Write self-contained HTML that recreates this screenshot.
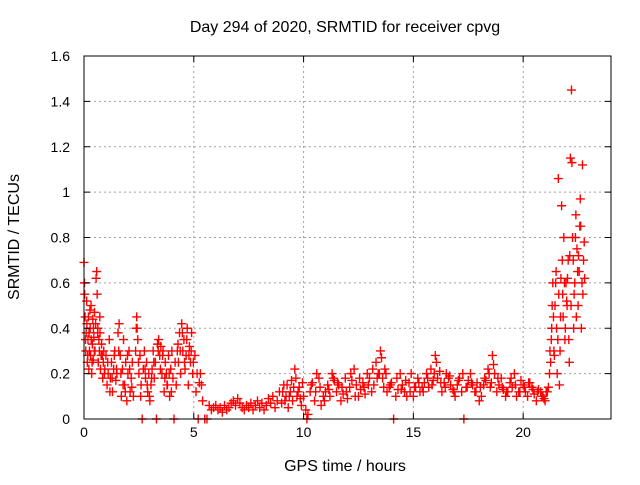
<!DOCTYPE html>
<html><head><meta charset="utf-8"><style>
body{margin:0;background:#fff}
svg text{font-family:"Liberation Sans",sans-serif;font-size:14px;fill:#000}
svg text.ttl{font-size:16px}
</style></head><body>
<svg id="chart" width="640" height="480">
<rect width="640" height="480" fill="#fff"/>
<text class="ttl" x="345" y="32" text-anchor="middle">Day 294 of 2020, SRMTID for receiver cpvg</text>
<text class="ttl" transform="translate(19,237) rotate(-90)" text-anchor="middle">SRMTID / TECUs</text>
<text class="ttl" x="345" y="471" text-anchor="middle">GPS time / hours</text>
<g id="grid"></g><g id="marks"></g><g id="axes"></g>
</svg>
<script>
const xTicks=[0,5,10,15,20];
const yTicks=[0,0.2,0.4,0.6,0.8,1,1.2,1.4,1.6];
const yTickLabels=["0","0.2","0.4","0.6","0.8","1","1.2","1.4","1.6"];
const hours=[0,0.02,0.05,0.08,0.1,0.12,0.15,0.18,0.2,0.22,0.25,0.28,0.3,0.32,0.35,0.38,0.4,0.42,0.45,0.48,0.5,
0.55,0.58,0.6,0.62,0.65,0.68,0.7,0.72,0.75,0.78,0.8,0.85,0.88,0.9,0.95,1.0,
1.05,1.1,1.15,1.2,1.25,1.3,1.35,1.4,1.45,1.5,1.55,1.6,1.65,1.7,1.75,1.8,1.85,1.9,1.95,2.0,2.05,2.1,2.15,2.2,2.25,
2.35,2.4,2.42,2.45,2.5,2.55,2.6,2.65,2.7,
2.75,2.8,2.85,2.9,2.95,3.0,3.05,3.1,3.15,3.2,3.25,3.3,3.35,3.4,3.45,3.5,3.55,3.6,3.65,3.7,3.75,3.8,3.85,3.9,3.95,4.0,4.05,4.1,4.15,
4.2,4.25,4.3,4.35,4.4,4.45,4.5,4.55,4.6,4.65,4.7,4.75,4.8,4.85,4.9,4.95,
5.05,5.1,5.2,5.3,5.35,5.4,5.5,5.6,
5.7,5.8,5.9,6.0,6.1,6.2,6.3,6.4,6.5,
6.6,6.7,6.8,6.9,7.0,7.1,7.2,7.3,7.4,7.5,7.6,7.7,7.8,7.9,8.0,8.1,8.2,8.3,8.4,8.5,8.6,8.7,8.8,8.9,
9.0,9.1,9.2,9.3,9.4,9.5,9.6,9.65,9.7,9.8,9.9,10.0,10.1,10.15,10.2,
10.3,10.5,10.7,10.9,11.1,11.3,11.5,11.7,11.9,12.1,12.3,12.5,12.7,12.9,13.1,13.3,13.5,13.6,13.8,14.0,14.1,14.2,14.4,14.6,14.8,15.0,15.2,15.4,15.6,15.8,16.0,16.1,16.3,16.5,16.7,16.9,17.1,17.3,17.4,17.6,17.8,18.0,18.2,18.4,18.6,18.8,19.0,19.2,19.4,19.6,19.8,20.0,20.2,20.4,20.6,20.8,
10.4,10.6,10.8,11.0,11.2,11.4,11.6,11.8,12.0,12.2,12.4,12.6,12.8,13.0,13.2,13.4,13.7,13.9,14.3,14.5,14.7,14.9,15.1,15.3,15.5,15.7,15.9,16.2,16.4,16.6,16.8,17.0,17.2,17.5,17.7,17.9,18.1,18.3,18.5,18.7,18.9,19.1,19.3,19.5,19.7,19.9,20.1,20.3,20.5,20.7,20.9,
21.0,21.1,21.2,21.25,21.3,21.35,21.4,21.45,21.5,21.55,21.6,21.65,21.7,21.75,21.8,21.85,21.9,21.95,22.0,22.05,22.1,22.15,22.2,22.22,22.25,22.3,22.35,22.4,22.45,22.5,22.55,22.6,22.62,22.65,22.7,22.72,22.75];
const srmtid=[0.69,0.6,0.45,0.3,0.38,0.52,0.25,0.35,0.45,0.22,0.3,0.4,0.28,0.5,0.2,0.33,0.44,0.26,0.36,0.47,0.3,
0.62,0.65,0.55,0.38,0.25,0.35,0.3,0.45,0.22,0.28,0.33,0.18,0.25,0.3,0.22,0.28,
0.15,0.2,0.35,0.18,0.25,0.12,0.22,0.3,0.17,0.2,0.38,0.42,0.28,0.1,0.22,0.35,0.15,0.25,0.08,0.2,0.3,0.12,0.18,0.25,0.1,
0.3,0.45,0.4,0.35,0.2,0.28,0.15,0,0.22,
0.3,0.18,0.25,0.12,0.2,0.08,0.15,0.22,0.3,0.18,0.25,0,0.33,0.35,0.28,0.32,0.2,0.3,0.12,0.25,0.2,0.15,0.28,0.1,0.22,0.3,0.18,0,0.25,
0.15,0.3,0.25,0.38,0.2,0.42,0.3,0.35,0.22,0.28,0.4,0.15,0.32,0.25,0.38,0.2,
0.28,0.12,0,0.2,0.15,0.08,0,0,
0.06,0.04,0.05,0.06,0.04,0.05,0.03,0.06,0.04,
0.05,0.07,0.08,0.06,0.09,0.07,0.05,0.04,0.06,0.05,0.07,0.04,0.06,0.08,0.05,0.07,0.04,0.06,0.09,0.07,0.1,0.05,0.08,0.12,
0.07,0.15,0.1,0.05,0.12,0.08,0.22,0.18,0.1,0.14,0.06,0.1,0.04,0,0.02,
0.12,0.08,0.18,0.1,0.15,0.2,0.12,0.08,0.18,0.14,0.22,0.1,0.16,0.2,0.12,0.25,0.3,0.18,0.12,0.16,0,0.1,0.2,0.12,0.16,0.1,0.18,0.14,0.2,0.22,0.28,0.18,0.12,0.2,0.15,0.1,0.18,0,0.14,0.2,0.12,0.08,0.15,0.22,0.28,0.12,0.18,0.1,0.16,0.2,0.12,0.15,0.1,0.14,0.08,0.12,
0.16,0.2,0.06,0.12,0.1,0.17,0.15,0.11,0.09,0.17,0.15,0.13,0.11,0.18,0.15,0.2,0.22,0.14,0.13,0.15,0.1,0.2,0.14,0.12,0.16,0.14,0.17,0.21,0.16,0.18,0.13,0.15,0.12,0.17,0.15,0.16,0.1,0.17,0.14,0.2,0.15,0.13,0.12,0.14,0.1,0.17,0.12,0.16,0.11,0.13,0.1,
0.08,0.12,0.2,0.25,0.4,0.6,0.3,0.5,0.65,0.2,1.06,0.15,0.45,0.94,0.55,0.8,0.35,0.6,0.5,0.7,0.25,1.15,1.45,1.13,0.8,0.4,0.6,0.9,0.75,0.5,0.65,0.97,0.85,0.4,1.12,0.55,0.7];
const extraHours=[0.03,0.07,0.13,0.17,0.23,0.27,0.33,0.37,0.43,0.47,0.53,0.63,0.73,0.83,0.93,1.08,1.18,1.28,1.38,1.48,1.58,1.68,1.78,1.88,1.98,2.08,2.18,2.38,2.48,2.58,2.78,2.88,2.98,3.08,3.18,3.38,3.48,3.58,3.68,3.78,3.88,3.98,4.28,4.38,4.48,4.58,4.68,4.78,4.88,4.98,5.15,5.25,
9.05,9.15,9.25,9.35,9.45,9.55,9.75,9.85,9.95,10.35,10.55,10.75,10.95,11.15,11.35,11.55,11.75,11.95,12.15,12.35,12.55,12.75,12.95,13.15,13.35,13.45,13.55,13.65,13.75,13.95,14.25,14.45,14.65,14.85,15.05,15.25,15.45,15.65,15.85,15.95,16.05,16.25,16.45,16.65,16.85,17.05,17.25,17.45,17.65,17.85,18.05,18.25,18.45,18.55,18.65,18.85,19.05,19.25,19.45,19.65,19.85,20.05,20.25,20.45,20.65,20.85,20.95,21.05,21.15,
21.22,21.28,21.32,21.38,21.42,21.48,21.52,21.58,21.62,21.68,21.72,21.78,21.82,21.88,21.92,21.98,22.02,22.08,22.12,22.18,22.28,22.32,22.38,22.42,22.48,22.52,22.58,22.68,22.78,22.8];
const extraVals=[0.55,0.35,0.42,0.28,0.38,0.48,0.35,0.25,0.4,0.3,0.42,0.4,0.38,0.28,0.2,0.25,0.12,0.18,0.28,0.22,0.3,0.2,0.15,0.12,0.28,0.22,0.14,0.4,0.25,0.1,0.22,0.15,0.1,0.18,0.25,0.3,0.22,0.28,0.18,0.15,0.2,0.12,0.33,0.3,0.38,0.25,0.35,0.28,0.3,0.25,0.2,0.16,
0.12,0.08,0.15,0.1,0.17,0.14,0.12,0.09,0.16,0.15,0.12,0.14,0.08,0.13,0.18,0.16,0.14,0.12,0.2,0.1,0.18,0.14,0.15,0.22,0.18,0.2,0.27,0.14,0.2,0.15,0.18,0.13,0.17,0.12,0.14,0.16,0.12,0.18,0.15,0.2,0.25,0.16,0.14,0.19,0.12,0.17,0.2,0.14,0.16,0.12,0.14,0.18,0.2,0.16,0.24,0.18,0.14,0.12,0.18,0.15,0.12,0.14,0.16,0.13,0.12,0.1,0.09,0.12,0.14,
0.3,0.35,0.5,0.45,0.28,0.6,0.4,0.35,0.55,0.3,0.62,0.7,0.45,0.6,0.4,0.52,0.62,0.35,0.72,0.5,0.7,0.55,0.8,0.45,0.65,0.72,0.85,0.6,0.78,0.62];
const L=84,R=611,T=56,B=419;
function xs(v){return L+v*(R-L)/24;}
function ys(v){return B-v*(B-T)/1.6;}
const NS="http://www.w3.org/2000/svg";
const grid=document.getElementById('grid'),axes=document.getElementById('axes'),marks=document.getElementById('marks');
function mk(tag,attrs,parent){const e=document.createElementNS(NS,tag);for(const k in attrs)e.setAttribute(k,attrs[k]);parent.appendChild(e);return e;}
xTicks.forEach(t=>{
  const x=xs(t);
  if(t>0){const g=mk('line',{x1:x,x2:x,y1:T,y2:B,stroke:'#a0a0a0','stroke-dasharray':'2,3'},grid);
  
  }
  mk('line',{x1:x,x2:x,y1:B,y2:B-6,stroke:'#000'},axes);
  mk('line',{x1:x,x2:x,y1:T,y2:T+6,stroke:'#000'},axes);
  const tx=mk('text',{x:x,y:B+18,'text-anchor':'middle'},axes);tx.textContent=t;
  
  
});
yTicks.forEach((t,i)=>{
  const y=ys(t);
  if(t>0&&t<1.6){const g=mk('line',{x1:L,x2:R,y1:y,y2:y,stroke:'#a0a0a0','stroke-dasharray':'2,3'},grid);
  
  }
  mk('line',{x1:L,x2:L+6,y1:y,y2:y,stroke:'#000'},axes);
  mk('line',{x1:R,x2:R-6,y1:y,y2:y,stroke:'#000'},axes);
  const tx=mk('text',{x:70,y:y+5,'text-anchor':'end'},axes);tx.textContent=yTickLabels[i];
  
  
});
const fr=mk('rect',{x:L,y:T,width:R-L,height:B-T,fill:'none',stroke:'#000'},axes);


let d='';
hours.forEach((h,i)=>{const x=xs(h),y=ys(srmtid[i]);d+=`M${x-4.5},${y}h9M${x},${y-4.5}v9`;});
extraHours.forEach((h,i)=>{const x=xs(h),y=ys(extraVals[i]);d+=`M${x-4.5},${y}h9M${x},${y-4.5}v9`;});
const p=mk('path',{d:d,stroke:'#ff0000','stroke-width':1.4,fill:'none'},marks);


</script>
</body></html>
